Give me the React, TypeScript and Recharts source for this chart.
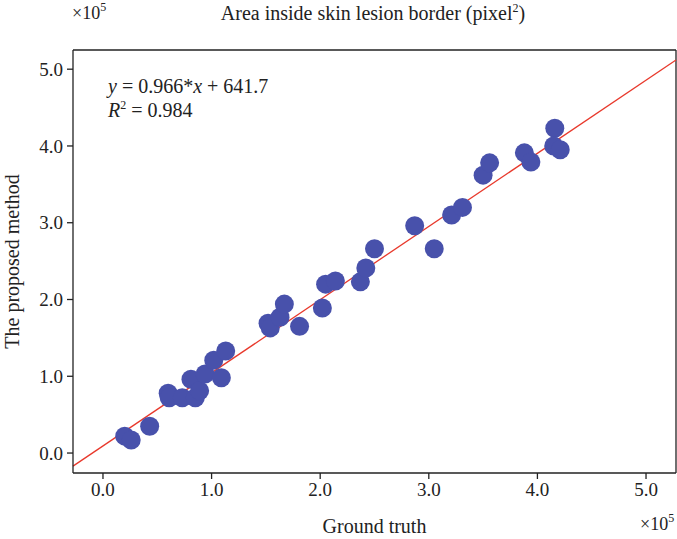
import { ScatterChart, Scatter, XAxis, YAxis, ReferenceLine, Label } from 'recharts';

const groundTruth = [
  0.2, 0.26, 0.43, 0.6, 0.61, 0.73, 0.81, 0.85, 0.89, 0.94, 1.02, 1.09, 1.13,
  1.52, 1.54, 1.63, 1.67, 1.81, 2.02, 2.05, 2.14, 2.37, 2.42, 2.5, 2.87, 3.05,
  3.21, 3.31, 3.5, 3.56, 3.88, 3.94, 4.16, 4.15, 4.21,
];
const proposed = [
  0.22, 0.17, 0.35, 0.78, 0.72, 0.72, 0.96, 0.72, 0.81, 1.03, 1.21, 0.98, 1.33,
  1.69, 1.63, 1.77, 1.94, 1.65, 1.89, 2.2, 2.24, 2.23, 2.41, 2.66, 2.96, 2.66,
  3.1, 3.2, 3.62, 3.78, 3.91, 3.79, 4.23, 4.0, 3.95,
];
const ticks = [0, 1, 2, 3, 4, 5];
// fitted line as drawn, end points at the plot edges
const fitX = [-0.276, 5.276];
const fitY = [-0.17, 5.12];

const X_DOMAIN = [-0.276, 5.276];
const Y_DOMAIN = [-0.26, 5.25];

const points = groundTruth.map((x, i) => ({ x, y: proposed[i] }));

const FONT = '"Liberation Serif", "DejaVu Serif", serif';
const AXIS = '#222';
const tickStyle = { fontSize: 19, fill: '#222', fontFamily: FONT };
const supStyle = { fontSize: 12, position: 'relative' as const, top: -8, verticalAlign: 'baseline' };

function Dot(props: any) {
  const { cx, cy } = props;
  return <circle cx={cx} cy={cy} r={9.5} fill="#4851ab" />;
}

export default function App() {
  return (
    <div style={{ position: 'fixed', left: 0, top: 0, width: 677, height: 539, background: '#fff', fontFamily: FONT, color: '#222', overflow: 'hidden' }}>
      <ScatterChart width={677} height={539} margin={{ top: 50, right: 1, bottom: 0, left: 0 }}>
        <XAxis
          type="number"
          dataKey="x"
          domain={X_DOMAIN}
          ticks={ticks}
          allowDataOverflow
          height={66}
          tickSize={6}
          tickMargin={4}
          stroke={AXIS}
          strokeWidth={1.3}
          tick={tickStyle}
          tickFormatter={(v: number) => v.toFixed(1)}
        >
          <Label value="Ground truth" position="insideBottom" offset={6} style={{ fontSize: 20, fill: '#222', fontFamily: FONT }} />
        </XAxis>
        <YAxis
          type="number"
          dataKey="y"
          domain={Y_DOMAIN}
          ticks={ticks}
          allowDataOverflow
          width={73}
          tickSize={6}
          tickMargin={4}
          stroke={AXIS}
          strokeWidth={1.3}
          tick={tickStyle}
          tickFormatter={(v: number) => v.toFixed(1)}
        >
          <Label value="The proposed method" angle={-90} position="insideLeft" offset={0} dx={12} style={{ fontSize: 20, fill: '#222', fontFamily: FONT, textAnchor: 'middle' }} />
        </YAxis>
        <ReferenceLine y={Y_DOMAIN[1]} stroke={AXIS} strokeWidth={1.3} />
        <ReferenceLine x={X_DOMAIN[1]} stroke={AXIS} strokeWidth={1.3} />
        <ReferenceLine
          segment={[{ x: fitX[0], y: fitY[0] }, { x: fitX[1], y: fitY[1] }]}
          stroke="#e8392c"
          strokeWidth={1.3}
        />
        <Scatter data={points} shape={<Dot />} isAnimationActive={false} />
      </ScatterChart>

      <div style={{ position: 'absolute', left: 72, top: 3, fontSize: 18, whiteSpace: 'nowrap' }}>
        ×10<span style={supStyle}>5</span>
      </div>
      <div style={{ position: 'absolute', left: 0, width: 746, top: 2, textAlign: 'center', fontSize: 20, whiteSpace: 'nowrap' }}>
        Area inside skin lesion border (pixel<span style={supStyle}>2</span>)
      </div>
      <div style={{ position: 'absolute', left: 640, top: 514, fontSize: 18, whiteSpace: 'nowrap' }}>
        ×10<span style={supStyle}>5</span>
      </div>
      <div style={{ position: 'absolute', left: 108, top: 74, fontSize: 20, lineHeight: '24px', whiteSpace: 'nowrap' }}>
        <div>
          <i>y</i> = 0.966*<i>x</i> + 641.7
        </div>
        <div>
          <i>R</i>
          <span style={supStyle}>2</span> = 0.984
        </div>
      </div>
    </div>
  );
}
